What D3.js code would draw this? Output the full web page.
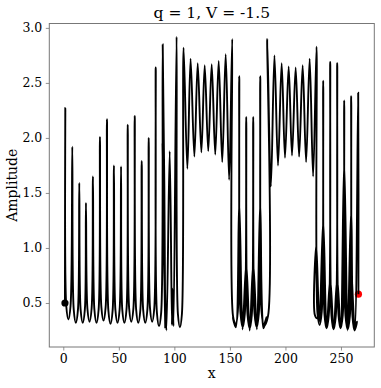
<!DOCTYPE html>
<html>
<head>
<meta charset="utf-8">
<script src="https://cdn.jsdelivr.net/npm/d3@7"></script>
<style>
  body { margin: 0; background: #fff; }
  svg { display: block; font-family: "DejaVu Serif", serif; }
</style>
</head>
<body>
<div id="chart"></div>
<script>
// trajectory, split in runs (x, amplitude)
// low troughs carry their two sides as well, so the bottoms come out round

// first low run, x 0 - 107
var run1X = [1.5, 1.8,
  2.7, 4.6, 6.5, 8.1,
  9.4, 11.3, 13.2, 14.4,
  15.6, 17.5, 19.4, 20.4,
  21.7, 23.6, 25.5, 26.7,
  28.0, 29.9, 31.8, 33.0,
  34.3, 36.2, 38.1, 39.3,
  40.6, 42.5, 44.4, 45.6,
  46.9, 48.8, 50.7, 52.0,
  53.1, 55.0, 56.9, 58.0,
  59.3, 61.2, 63.1, 64.3,
  65.6, 67.5, 69.4, 70.6,
  71.9, 73.8, 75.7, 76.9,
  78.1, 80.0, 81.9, 83.2,
  84.3, 86.2, 88.1, 89.5,
  91.8, 89.3, 92.8, 95.8, 97.8, 98.3, 99.2, 102.0,
  103.2, 105.0, 106.8];
var run1Amp = [0.50, 2.27,
  0.47, 0.35, 0.47, 1.92,
  0.44, 0.32, 0.44, 1.59,
  0.44, 0.32, 0.44, 1.41,
  0.45, 0.33, 0.45, 1.65,
  0.44, 0.32, 0.44, 2.01,
  0.46, 0.34, 0.46, 2.17,
  0.43, 0.31, 0.43, 1.75,
  0.44, 0.32, 0.44, 1.74,
  0.44, 0.32, 0.44, 2.12,
  0.45, 0.33, 0.45, 2.20,
  0.44, 0.32, 0.44, 1.79,
  0.44, 0.32, 0.44, 2.00,
  0.45, 0.33, 0.45, 2.64,
  0.41, 0.29, 0.41, 2.85,
  0.27, 1.94, 0.25, 1.88, 0.30, 0.63, 0.29, 2.92,
  0.40, 0.28, 0.40];

// first high run, x 108 - 152
var run2X = [108.3, 111.7, 114.6, 118.0, 121.0, 124.3, 127.3, 130.5, 133.6, 136.8, 139.9, 143.1,
  146.2, 149.3, 152.1];
var run2Amp = [2.82, 1.72, 2.72, 1.83, 2.68, 1.87, 2.66, 1.88, 2.67, 1.85, 2.70, 1.78,
  2.76, 1.62, 2.90];

// second low run, x 152 - 184 (forward, back, forward)
var run3X = [152.8, 155.2, 157.1, 158.4, 159.6, 161.5, 163.4, 164.7, 165.9, 167.8, 169.7, 171.0,
  172.2, 174.1, 176.0, 177.3, 178.5, 180.4, 183.0,
  180.2, 177.3, 174.3, 171.0, 167.8, 164.7, 161.4, 158.4, 155.3, 152.6,
  155.5, 158.6, 161.7, 164.9, 168.0, 171.2, 174.4, 177.5, 180.6, 184.3];
var run3Amp = [0.38, 0.30, 0.42, 2.56, 0.40, 0.28, 0.40, 2.19, 0.39, 0.27, 0.39, 2.19,
  0.40, 0.28, 0.40, 2.56, 0.42, 0.30, 0.37,
  0.27, 1.42, 0.26, 0.86, 0.25, 0.86, 0.26, 1.42, 0.28, 0.37,
  0.30, 0.95, 0.28, 0.65, 0.28, 0.65, 0.28, 0.95, 0.29, 0.38];

// second high run, x 184 - 228
var run4X = [183.6, 186.9, 190.1, 193.3, 196.6, 199.6, 202.9, 205.9, 209.2, 212.3, 215.5, 218.6,
  221.8, 224.9, 228.0];
var run4Amp = [2.90, 1.56, 2.75, 1.75, 2.68, 1.82, 2.65, 1.84, 2.64, 1.83, 2.66, 1.78,
  2.72, 1.65, 2.83];

// third low run, x 226 - 266 (forward, back, forward)
var run5X = [228.9, 230.8, 232.7, 234.0, 235.2, 237.0, 239.0, 240.3, 241.5, 243.3, 245.3, 246.6,
  247.8, 249.6, 251.6, 252.9, 254.1, 256.0, 258.0, 259.2, 260.4, 262.2, 264.5,
  262.0, 259.2, 256.0, 252.9, 249.7, 246.6, 243.4, 240.3, 237.1, 234.0, 230.6, 227.8, 226.5,
  228.5, 230.4, 233.7, 237.2, 240.5, 243.5, 246.8, 249.8, 252.9, 256.2, 258.6, 262.4, 265.5, 265.7];
var run5Amp = [0.40, 0.30, 0.42, 2.52, 0.39, 0.27, 0.39, 2.69, 0.38, 0.26, 0.38, 2.68,
  0.39, 0.27, 0.39, 2.34, 0.38, 0.26, 0.38, 2.38, 0.37, 0.25, 0.33,
  0.27, 1.35, 0.25, 1.78, 0.27, 0.72, 0.26, 0.72, 0.27, 1.25, 0.33, 1.03, 0.39,
  0.36, 0.39, 0.80, 0.28, 0.55, 0.27, 0.55, 0.28, 0.95, 0.27, 0.89, 0.27, 2.41, 0.58];

var startPoint = [1.5, 0.50];
var endPoint = [265.7, 0.58];
var xTicks = [0, 50, 100, 150, 200, 250];
var yTicks = [0.5, 1.0, 1.5, 2.0, 2.5, 3.0];
var title = "q = 1, V = -1.5";

var width = 381, height = 388;
var margin = {left: 49.3, right: 6.7, top: 23.5, bottom: 41};
var w = width - margin.left - margin.right;
var h = height - margin.top - margin.bottom;

var svg = d3.select("#chart").append("svg")
  .attr("width", width)
  .attr("height", height);

var g = svg.append("g")
  .attr("transform", "translate(" + margin.left + "," + margin.top + ")");

var x = d3.scaleLinear().domain([-12.6, 280]).range([0, w]);
var y = d3.scaleLinear().domain([0.1, 3.04]).range([h, 0]);

// axes
var xAxis = g.append("g")
  .attr("transform", "translate(0," + h + ")")
  .call(d3.axisBottom(x).tickValues(xTicks).tickSize(3.5).tickPadding(3.5).tickFormat(d3.format("d")));
var yAxis = g.append("g")
  .call(d3.axisLeft(y).tickValues(yTicks).tickSize(3.5).tickPadding(3.5).tickFormat(d3.format(".1f")));

[xAxis, yAxis].forEach(function(a) {
  a.select(".domain").remove();
  a.selectAll(".tick line").attr("stroke", "#777").attr("stroke-width", 0.8);
  a.selectAll(".tick text")
    .attr("fill", "#000")
    .style("font-family", "'DejaVu Serif', serif")
    .style("font-size", "12.5px");
});

// trajectory
var allX = run1X.concat(run2X, run3X, run4X, run5X);
var allAmp = run1Amp.concat(run2Amp, run3Amp, run4Amp, run5Amp);
var pts = allX.map(function(d, i) { return [d, allAmp[i]]; });

g.append("circle")
  .attr("cx", x(startPoint[0]))
  .attr("cy", y(startPoint[1]))
  .attr("r", 3.6)
  .attr("fill", "#000");

g.append("circle")
  .attr("cx", x(endPoint[0]))
  .attr("cy", y(endPoint[1]))
  .attr("r", 3.6)
  .attr("fill", "red");

var line = d3.line()
  .x(function(d) { return x(d[0]); })
  .y(function(d) { return y(d[1]); })
  .curve(d3.curveCatmullRom.alpha(0.5));

g.append("path")
  .datum(pts)
  .attr("d", line)
  .attr("fill", "none")
  .attr("stroke", "#000")
  .attr("stroke-width", 1.9);

// frame
g.append("rect")
  .attr("width", w)
  .attr("height", h)
  .attr("fill", "none")
  .attr("stroke", "#777")
  .attr("stroke-width", 1);

// labels
svg.append("text")
  .attr("x", margin.left + w / 2)
  .attr("y", 18)
  .attr("text-anchor", "middle")
  .style("font-size", "15.5px")
  .text(title);

svg.append("text")
  .attr("x", margin.left + w / 2)
  .attr("y", 378)
  .attr("text-anchor", "middle")
  .style("font-size", "14px")
  .text("x");

svg.append("text")
  .attr("transform", "translate(17," + (margin.top + h / 2) + ") rotate(-90)")
  .attr("text-anchor", "middle")
  .style("font-size", "14px")
  .text("Amplitude");
</script>
</body>
</html>
